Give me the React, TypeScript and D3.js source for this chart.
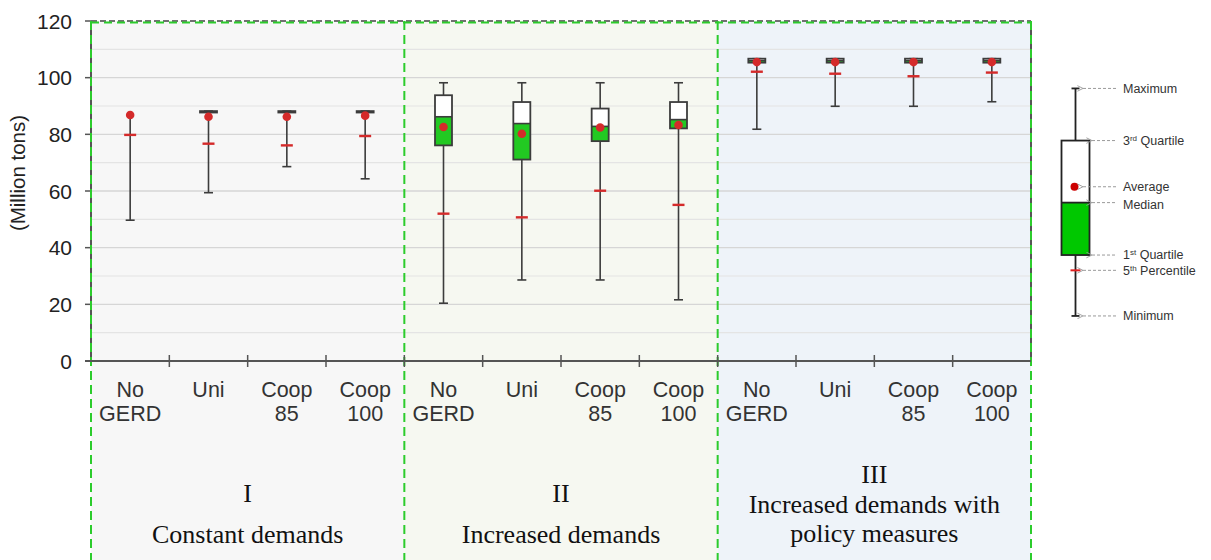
import React from "react";
import * as d3 from "d3";

// ---- data ----
const scenarios = ["No GERD", "Uni", "Coop 85", "Coop 100"];
const scenarioLines = [["No", "GERD"], ["Uni"], ["Coop", "85"], ["Coop", "100"]];
const sectionNumerals = ["I", "II", "III"];
const sectionTitles = [["Constant demands"], ["Increased demands"], ["Increased demands with", "policy measures"]];

// 12 categories: section x scenario
const minimum = [49.7, 59.4, 68.6, 64.3, 20.4, 28.6, 28.6, 21.6, 81.8, 89.9, 89.9, 91.5];
const percentile5 = [79.8, 76.7, 76.1, 79.4, 52.0, 50.7, 60.1, 55.1, 102.1, 101.4, 100.5, 101.8];
const quartile1: (number | null)[] = [null, 87.7, 87.7, 87.7, 76.1, 71.1, 77.6, 82.1, 105.3, 105.3, 105.3, 105.3];
const median: (number | null)[] = [null, 87.9, 87.9, 87.9, 86.2, 83.8, 82.8, 85.2, 106.0, 106.0, 106.0, 106.0];
const quartile3: (number | null)[] = [null, 88.2, 88.2, 88.2, 93.8, 91.4, 89.1, 91.4, 106.7, 106.7, 106.7, 106.7];
const maximum = [87.0, 88.2, 88.2, 88.2, 98.2, 98.2, 98.2, 98.2, 106.7, 106.7, 106.7, 106.7];
const average = [86.8, 86.2, 86.2, 86.6, 82.6, 80.2, 82.4, 83.3, 105.5, 105.5, 105.5, 105.5];

const yTicks = [0, 20, 40, 60, 80, 100, 120];
const yMinorTicks = [10, 30, 50, 70, 90, 110];

// legend schematic values (same value scale as the chart)
const legendLabels = ["Maximum", "3rd Quartile", "Average", "Median", "1st Quartile", "5th Percentile", "Minimum"];
const legendValues = [96.2, 77.8, 61.5, 55.9, 37.4, 32.0, 15.9];

// ---- layout / style ----
const W = 1211;
const H = 560;
const plotLeft = 91;
const plotRight = 1031;
const plotTop = 21;
const plotBottom = 361;
const sectionBg = ["#f7f7f7", "#f6f8f1", "#eef3f9"];
const green = "#22c922";
const dashGreen = "#2ccc2c";
const red = "#d42a2a";
const dark = "#3c3c3c";
const sans = "Liberation Sans, Arial, sans-serif";
const serif = "Liberation Serif, Times New Roman, serif";

export default function App() {
  const cats = d3.range(12);
  const x = d3.scaleBand<number>().domain(cats).range([plotLeft, plotRight]).padding(0);
  const y = d3.scaleLinear().domain([0, 120]).range([plotBottom, plotTop]);
  const bw = x.bandwidth();
  const sectionX = (s: number) => x(s * 4)!;
  const sectionW = bw * 4;

  const boxW = 17;
  const capW = 9;
  const p5W = 12;

  const lgX = 1075.5;
  const lgBoxW = 28;
  const lgVal = (k: string) => legendValues[legendLabels.indexOf(k)];
  const lgTipNear = 1083;
  const lgTipBox = 1092;
  const lgLineEnd = 1117;
  const lgTextX = 1123;

  return (
    <svg width={W} height={H} style={{ position: "absolute", left: 0, top: 0, background: "#fff" }}
      fontFamily={sans}>
      <defs>
        <marker id="arr" viewBox="0 0 10 10" refX="1" refY="5" markerWidth="7" markerHeight="7" orient="auto-start-reverse">
          <path d="M9,1 L1,5 L9,9" fill="none" stroke="#9a9a9a" strokeWidth={1.3} />
        </marker>
      </defs>
      {/* section backgrounds */}
      {sectionNumerals.map((_, s) => (
        <rect key={"bg" + s} x={sectionX(s)} y={plotTop} width={sectionW} height={H - plotTop} fill={sectionBg[s]} />
      ))}
      {/* gridlines */}
      {yMinorTicks.map((t) => (
        <line key={"mg" + t} x1={plotLeft} x2={plotRight} y1={y(t)} y2={y(t)} stroke="#e4e4e4" strokeWidth={1.2} />
      ))}
      {yTicks.filter((t) => t > 0 && t < 120).map((t) => (
        <line key={"g" + t} x1={plotLeft} x2={plotRight} y1={y(t)} y2={y(t)} stroke="#d6d6d6" strokeWidth={1.4} />
      ))}
      {/* right border */}
      <line x1={plotRight} x2={plotRight} y1={plotTop} y2={plotBottom} stroke="#555" strokeWidth={2} />
      {/* top border: dark dashed with green dashes */}
      <line x1={plotLeft} x2={plotRight} y1={plotTop} y2={plotTop} stroke="#444" strokeWidth={1.5} strokeDasharray="6 3" />
      <line x1={plotLeft} x2={plotRight} y1={plotTop + 1.5} y2={plotTop + 1.5} stroke={dashGreen} strokeWidth={2} strokeDasharray="8 5" />
      {/* y axis */}
      <line x1={plotLeft} x2={plotLeft} y1={plotTop} y2={plotBottom} stroke="#555" strokeWidth={2} />
      {yTicks.map((t) => (
        <g key={"yt" + t}>
          <line x1={plotLeft - 6} x2={plotLeft} y1={y(t)} y2={y(t)} stroke="#555" strokeWidth={1.5} />
          <text x={72} y={y(t)} dy="0.36em" textAnchor="end" fontSize={21} fill="#222">{t}</text>
        </g>
      ))}
      <text transform={`translate(25,173) rotate(-90)`} textAnchor="middle" fontSize={20.5} fill="#222">(Million tons)</text>
      {/* section dividers */}
      {[0, 1, 2, 3].map((s) => {
        const xx = s < 3 ? sectionX(s) : plotRight;
        return (
          <line key={"sd" + s} x1={xx} x2={xx} y1={plotTop} y2={H} stroke={dashGreen} strokeWidth={2} strokeDasharray="9 5" />
        );
      })}
      {/* x axis */}
      <line x1={plotLeft - 6} x2={plotRight} y1={plotBottom} y2={plotBottom} stroke="#555" strokeWidth={2} />
      {cats.slice(1).map((c) => (
        <line key={"xt" + c} x1={x(c)!} x2={x(c)!} y1={plotBottom - 6} y2={plotBottom + 6} stroke="#555" strokeWidth={1.5} />
      ))}
      {/* x labels */}
      {cats.map((c) => {
        const cx = x(c)! + bw / 2;
        const lines = scenarioLines[c % 4];
        return (
          <text key={"xl" + c} x={cx} textAnchor="middle" fontSize={21.5} fill="#333">
            {lines.map((l, i) => (
              <tspan key={i} x={cx} y={397 + i * 23.5}>{l}</tspan>
            ))}
          </text>
        );
      })}
      {/* section titles */}
      {sectionNumerals.map((n, s) => {
        const cx = sectionX(s) + sectionW / 2;
        const lines = [n, ...sectionTitles[s]];
        const baselines = lines.length === 3 ? [483, 513, 542] : [502, 543];
        return (
          <text key={"st" + s} textAnchor="middle" fontFamily={serif} fontSize={26} fill="#111">
            {lines.map((l, i) => (
              <tspan key={i} x={cx} y={baselines[i]}>{l}</tspan>
            ))}
          </text>
        );
      })}
      {/* box plots */}
      {cats.map((c) => {
        const cx = x(c)! + bw / 2;
        const q1 = quartile1[c];
        const q3 = quartile3[c];
        const md = median[c];
        return (
          <g key={"bx" + c}>
            <line x1={cx} x2={cx} y1={y(minimum[c])} y2={y(maximum[c])} stroke={dark} strokeWidth={1.6} />
            <line x1={cx - capW / 2} x2={cx + capW / 2} y1={y(minimum[c])} y2={y(minimum[c])} stroke={dark} strokeWidth={1.6} />
            {q1 !== null && (
              <line x1={cx - capW / 2} x2={cx + capW / 2} y1={y(maximum[c])} y2={y(maximum[c])} stroke={dark} strokeWidth={1.6} />
            )}
            {q1 !== null && q3 !== null && md !== null && (
              <g>
                <rect x={cx - boxW / 2} y={y(q3)} width={boxW} height={y(md) - y(q3)} fill="#fff" />
                <rect x={cx - boxW / 2} y={y(md)} width={boxW} height={y(q1) - y(md)} fill={green} />
                <rect x={cx - boxW / 2} y={y(q3)} width={boxW} height={y(q1) - y(q3)} fill="none" stroke={dark} strokeWidth={1.8} />
                <line x1={cx - boxW / 2} x2={cx + boxW / 2} y1={y(md)} y2={y(md)} stroke={dark} strokeWidth={1.6} />
              </g>
            )}
            <line x1={cx - p5W / 2} x2={cx + p5W / 2} y1={y(percentile5[c])} y2={y(percentile5[c])} stroke={red} strokeWidth={2.4} />
            <circle cx={cx} cy={y(average[c])} r={4.3} fill={red} />
          </g>
        );
      })}
      {/* legend */}
      <g>
        <line x1={lgX} x2={lgX} y1={y(lgVal("Minimum"))} y2={y(lgVal("Maximum"))} stroke="#222" strokeWidth={1.8} />
        <line x1={lgX - 4} x2={lgX + 4} y1={y(lgVal("Maximum"))} y2={y(lgVal("Maximum"))} stroke="#222" strokeWidth={1.8} />
        <line x1={lgX - 4} x2={lgX + 4} y1={y(lgVal("Minimum"))} y2={y(lgVal("Minimum"))} stroke="#222" strokeWidth={1.8} />
        <rect x={lgX - lgBoxW / 2} y={y(lgVal("3rd Quartile"))} width={lgBoxW} height={y(lgVal("Median")) - y(lgVal("3rd Quartile"))} fill="#fff" />
        <rect x={lgX - lgBoxW / 2} y={y(lgVal("Median"))} width={lgBoxW} height={y(lgVal("1st Quartile")) - y(lgVal("Median"))} fill="#00c800" />
        <rect x={lgX - lgBoxW / 2} y={y(lgVal("3rd Quartile"))} width={lgBoxW} height={y(lgVal("1st Quartile")) - y(lgVal("3rd Quartile"))} fill="none" stroke="#222" strokeWidth={1.8} />
        <line x1={lgX - lgBoxW / 2} x2={lgX + lgBoxW / 2} y1={y(lgVal("Median"))} y2={y(lgVal("Median"))} stroke="#222" strokeWidth={1.8} />
        <line x1={lgX - 5} x2={lgX + 5} y1={y(lgVal("5th Percentile"))} y2={y(lgVal("5th Percentile"))} stroke="#e02020" strokeWidth={2} />
        <circle cx={lgX - 1} cy={y(lgVal("Average"))} r={4} fill="#cc0000" />
        {legendLabels.map((l, i) => {
          const yy = y(legendValues[i]);
          const tip = ["3rd Quartile", "Median", "1st Quartile"].includes(l) ? lgTipBox : lgTipNear;
          const sup = l.startsWith("3rd") ? ["3", "rd", " Quartile"] : l.startsWith("1st") ? ["1", "st", " Quartile"] : l.startsWith("5th") ? ["5", "th", " Percentile"] : null;
          const ty = l === "Median" ? yy + 2.5 : yy;
          return (
            <g key={"lg" + l}>
              <line x1={tip} x2={lgLineEnd} y1={yy} y2={yy} stroke="#9a9a9a" strokeWidth={1} strokeDasharray="3 2" markerStart="url(#arr)" />
              <text x={lgTextX} y={ty} dy="0.35em" fontSize={12.5} fill="#333">
                {sup ? (
                  <>
                    <tspan>{sup[0]}</tspan>
                    <tspan fontSize={8} dy="-4">{sup[1]}</tspan>
                    <tspan dy="4">{sup[2]}</tspan>
                  </>
                ) : l}
              </text>
            </g>
          );
        })}
      </g>
    </svg>
  );
}
